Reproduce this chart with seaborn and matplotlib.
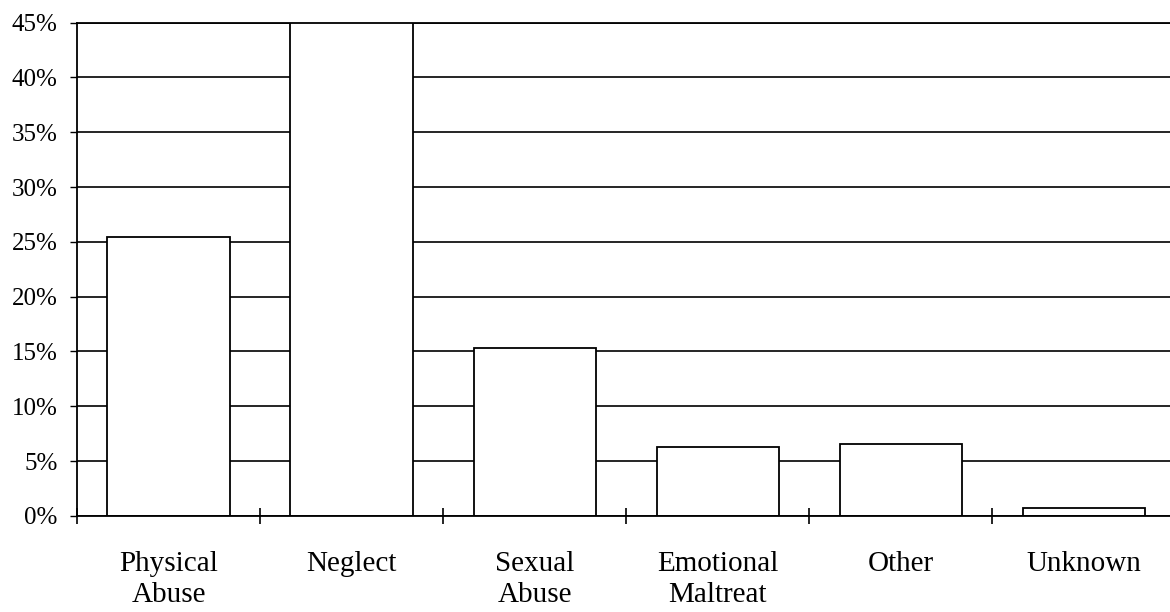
import numpy as np
import pandas as pd
import matplotlib.pyplot as plt
import seaborn as sns
from matplotlib.ticker import FixedLocator, FuncFormatter

# share of cases by type of maltreatment (percent)
categories = ["Physical\nAbuse", "Neglect", "Sexual\nAbuse", "Emotional\nMaltreat", "Other", "Unknown"]
shares = [25.4, 46.5, 15.3, 6.3, 6.6, 0.7]

df = pd.DataFrame({"type": categories, "share": shares})

sns.set_theme(style="white")
plt.rcParams["font.family"] = ["Liberation Serif", "DejaVu Serif"]
plt.rcParams["text.color"] = "black"
plt.rcParams["xtick.color"] = "black"
plt.rcParams["ytick.color"] = "black"

fig = plt.figure(figsize=(11.7, 6.12), dpi=100)
ax = fig.add_axes([0.066, 0.157, 0.934, 0.806])

sns.barplot(data=df, x="type", y="share", color="white", edgecolor="black",
            linewidth=1.3, width=0.67, ax=ax, zorder=2)

ax.set_ylim(0, 45)
ax.set_xlim(-0.5, 5.47)
ax.set_yticks(np.arange(0, 46, 5))
ax.yaxis.set_major_formatter(FuncFormatter(lambda v, p: f"{v:.0f}%"))
ax.yaxis.grid(True, color="black", linewidth=1.2)
ax.set_axisbelow(True)

# category separators on the x axis
ax.xaxis.set_minor_locator(FixedLocator(np.arange(-0.5, 5.6, 1)))
ax.tick_params(axis="x", which="minor", direction="inout", length=12, width=1.2, color="black", bottom=True)
ax.tick_params(axis="x", which="major", length=0, pad=25, labelsize=21, labelcolor="black")
ax.tick_params(axis="y", which="major", direction="out", length=5, width=1, color="black",
               left=True, labelsize=18, pad=9, labelcolor="black")

for lab in ax.get_xticklabels():
    lab.set_linespacing(1.25)

for side in ["left", "bottom", "top"]:
    ax.spines[side].set_visible(True)
    ax.spines[side].set_color("black")
    ax.spines[side].set_linewidth(1.3)
ax.spines["top"].set_zorder(5)
ax.spines["right"].set_visible(False)

ax.set_xlabel("")
ax.set_ylabel("")

fig.savefig("out.png", dpi=100)
